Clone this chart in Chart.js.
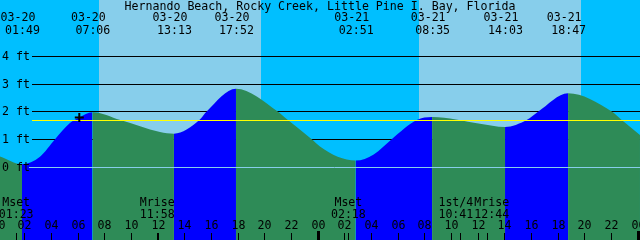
<!DOCTYPE html>
<html><head><meta charset="utf-8">
<script src="https://cdn.jsdelivr.net/npm/chart.js@4"></script>
<style>html,body{margin:0;padding:0;background:#00bfff;overflow:hidden}canvas{display:block}</style>
</head><body>
<canvas id="c" width="640" height="240"></canvas>
<script>
const title = "Hernando Beach, Rocky Creek, Little Pine I. Bay, Florida";
// hours since 03-20 00:00, tide height in feet
const tideHours = [0.17, 1.82, 3.17, 4.3, 5.42, 6.12, 7.1, 9.2, 12.17, 13.22, 15.12, 15.67, 17.87, 21.0, 21.77, 23.55, 24.17, 25.5, 26.85, 28.2, 29.55, 31.43, 32.58, 36.17, 38.05, 39.67, 40.55, 42.78, 46.05, 46.8, 48.17];
const tideFeet  = [0.38, 0.10, 0.37, 1.0, 1.58, 1.78, 1.97, 1.69, 1.26, 1.20, 1.69, 2.0, 2.82, 2.0, 1.69, 1.0, 0.74, 0.37, 0.23, 0.45, 1.0, 1.69, 1.80, 1.56, 1.44, 1.69, 2.0, 2.66, 2.0, 1.69, 1.15];
const extremeHours = [1.817, 7.1, 13.217, 17.867, 26.85, 32.583, 38.05, 42.783];
const extremeDates = ["03-20","03-20","03-20","03-20","03-21","03-21","03-21","03-21"];
const extremeTimes = ["01:49","07:06","13:13","17:52","02:51","08:35","14:03","18:47"];
const moonHours = [1.383, 11.967, 26.3, 34.683, 36.733];
const moonNames = ["Mset","Mrise","Mset","1st/4","Mrise"];
const moonTimes = ["01:23","11:58","02:18","10:41","12:44"];
const hourTicks = [0,2,4,6,8,10,12,14,16,18,20,22,24,26,28,30,32,34,36,38,40,42,44,46,48];
const hourLabels = ["00","02","04","06","08","10","12","14","16","18","20","22","00","02","04","06","08","10","12","14","16","18","20","22","00"];
const sunriseHours = [7.6, 31.6];
const sunsetHours = [19.75, 43.75];
const yTicks = [0,1,2,3,4];
const yTickLabels = ["0 ft","1 ft","2 ft","3 ft","4 ft"];
const meanLevel = 1.69;
const nowHour = 6.12, nowFeet = 1.78;

const FONT = '11.6px "DejaVu Sans Mono", "Liberation Mono", monospace';
const RISE = '#0000ff', FALL = '#2e8b57';

const tidePlugin = {
  id: 'tide',
  beforeDatasetsDraw(chart) {
    const {ctx, scales: {x, y}} = chart;
    ctx.save();
    ctx.fillStyle = '#00bfff';
    ctx.fillRect(0, 0, chart.width, chart.height);
    ctx.fillStyle = '#87ceeb';
    for (let i = 0; i < sunriseHours.length; i++) {
      const a = Math.round(x.getPixelForValue(sunriseHours[i]));
      const b = Math.round(x.getPixelForValue(sunsetHours[i]));
      ctx.fillRect(a, 0, b - a, chart.height);
    }
    ctx.strokeStyle = '#000';
    ctx.lineWidth = 1;
    yTicks.forEach(v => {
      if (v === 0) return;
      const py = Math.round(y.getPixelForValue(v)) + 0.5;
      ctx.beginPath(); ctx.moveTo(32, py); ctx.lineTo(chart.width, py); ctx.stroke();
    });
    ctx.restore();
  },
  afterDatasetDraw(chart, args) {
    if (args.index !== 0) return;
    const {ctx, scales: {x, y}} = chart;
    ctx.save();
    ctx.lineWidth = 1;
    let py = Math.round(y.getPixelForValue(0)) + 0.5;
    ctx.strokeStyle = '#87ceeb';
    ctx.beginPath(); ctx.moveTo(29, py); ctx.lineTo(chart.width, py); ctx.stroke();
    py = Math.round(y.getPixelForValue(meanLevel)) + 0.5;
    ctx.strokeStyle = '#ffff00';
    ctx.beginPath(); ctx.moveTo(32, py); ctx.lineTo(chart.width, py); ctx.stroke();
    ctx.restore();
  },
  afterDraw(chart) {
    const {ctx, scales: {x, y}} = chart;
    ctx.save();
    ctx.font = FONT;
    ctx.fillStyle = '#000';
    ctx.textBaseline = 'alphabetic';
    ctx.textAlign = 'center';
    ctx.fillText(title, chart.width / 2, 10);
    extremeHours.forEach((h, i) => {
      const px = x.getPixelForValue(h);
      ctx.textAlign = 'center';
      ctx.fillText(extremeTimes[i], px + 0.5, 34);
      const w = ctx.measureText(extremeDates[i]).width;
      const left = Math.max(0, px - 4 - w / 2);
      ctx.textAlign = 'left';
      ctx.fillText(extremeDates[i], left, 21);
    });
    ctx.textAlign = 'left';
    yTicks.forEach((v, i) => {
      const py = Math.round(y.getPixelForValue(v));
      ctx.fillText(yTickLabels[i], 2, py + 4);
    });
    ctx.textAlign = 'center';
    hourTicks.forEach((h, i) => {
      const px = Math.round(x.getPixelForValue(h));
      ctx.fillText(hourLabels[i], px + 0.5, 229);
      if (h % 24 === 0) ctx.fillRect(px - 1, 231, 3, 9);
      else ctx.fillRect(px, 233, 1, 7);
    });
    const centers = moonHours.map(h => x.getPixelForValue(h));
    const widths = moonNames.map((n, i) => Math.max(ctx.measureText(n).width, ctx.measureText(moonTimes[i]).width));
    const pos = centers.slice();
    for (let i = 0; i < pos.length - 1; i++) {
      const need = (widths[i] + widths[i + 1]) / 2 + 1;
      const gap = pos[i + 1] - pos[i];
      if (gap < need) { const d = (need - gap) / 2; pos[i] -= d; pos[i + 1] += d; }
    }
    moonHours.forEach((h, i) => {
      ctx.fillText(moonNames[i], pos[i], 206);
      ctx.fillText(moonTimes[i], pos[i], 218);
      ctx.fillRect(Math.round(centers[i]), 233, 1, 7);
    });
    ctx.restore();
  }
};

new Chart(document.getElementById('c'), {
  type: 'line',
  data: {
    datasets: [{
      data: tideHours.map((h, i) => ({x: h, y: tideFeet[i]})),
      borderWidth: 0,
      borderColor: 'rgba(0,0,0,0)',
      backgroundColor: FALL,
      fill: 'start',
      pointRadius: 0,
      cubicInterpolationMode: 'monotone',
      order: 2,
      segment: {
        backgroundColor: c => c.p1.parsed.y > c.p0.parsed.y ? RISE : FALL
      }
    }, {
      data: [{x: nowHour, y: nowFeet}],
      showLine: false,
      pointStyle: 'cross',
      pointRadius: 4.5,
      borderColor: '#000',
      borderWidth: 2,
      order: 1
    }]
  },
  options: {
    responsive: false,
    animation: false,
    events: [],
    layout: {padding: 0, autoPadding: false},
    plugins: {legend: {display: false}, tooltip: {enabled: false}, title: {display: false}},
    scales: {
      x: {type: 'linear', display: false, min: 0.1725, max: 48.1725},
      y: {type: 'linear', display: false, min: -2.637, max: 6.021}
    }
  },
  plugins: [tidePlugin]
});
</script>
</body></html>
